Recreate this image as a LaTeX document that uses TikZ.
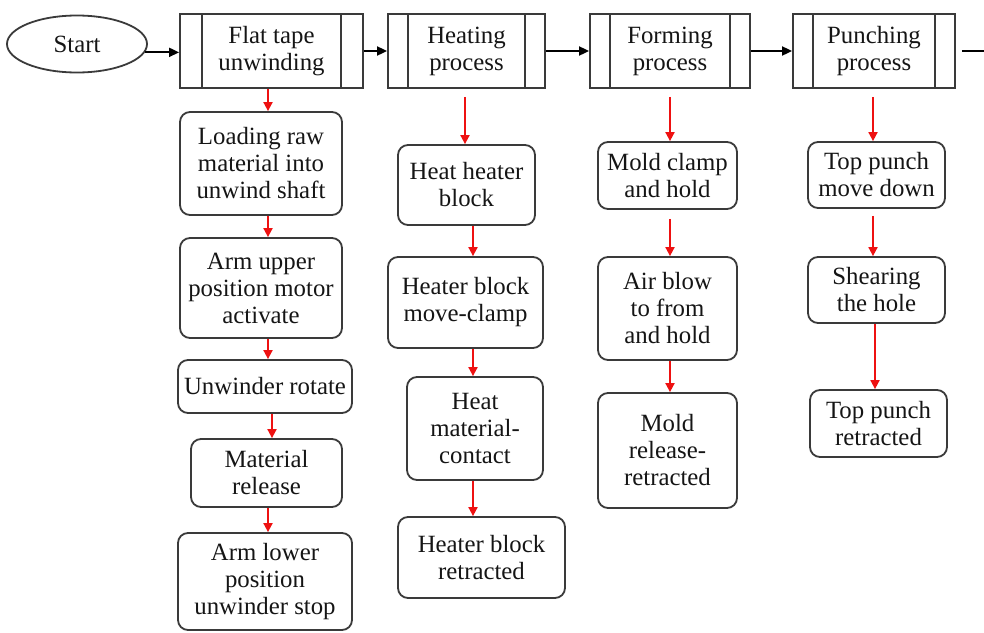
\documentclass[tikz,border=0pt]{standalone}
\usepackage{fontspec}
\setmainfont{Liberation Serif}
\newfontfamily\tnr{Liberation Serif}
\usetikzlibrary{arrows.meta,shapes.geometric}
\definecolor{edge}{HTML}{3A3A3A}
\definecolor{txt}{HTML}{151515}
\definecolor{redline}{HTML}{EE1111}
\tikzset{
  lbl/.style={font=\tnr\fontsize{24.8}{27}\selectfont, text=txt, align=center, inner sep=0pt},
  rbox/.style={lbl, draw=edge, line width=1.8pt, rounded corners=10pt},
  procbox/.style={lbl, draw=edge, line width=1.8pt, minimum height=74pt,
    path picture={
      \draw[edge, line width=1.8pt]
        ([xshift=#1]path picture bounding box.north west) -- ([xshift=#1]path picture bounding box.south west)
        ([xshift=-#1]path picture bounding box.north east) -- ([xshift=-#1]path picture bounding box.south east);
    }},
  startnode/.style={lbl, draw=edge, line width=1.8pt, ellipse, minimum width=140pt, minimum height=57pt},
  blk/.style={draw=black, line width=1.8pt, -{Triangle[length=10pt,width=9pt]}},
  ra/.style={draw=redline, line width=1.8pt, -{Triangle[length=9pt,width=9pt]}},
}
\begin{document}
\begin{tikzpicture}[x=1pt,y=-1pt]
\useasboundingbox (0,0) rectangle (984,632);
% top row
\node[startnode] (start) at (77,44) {Start};
\node[procbox=22pt, minimum width=183pt] (flat) at (271.5,51) {Flat tape\\unwinding};
\node[procbox=20pt, minimum width=157pt] (heat) at (466.5,51) {Heating\\process};
\node[procbox=20pt, minimum width=160pt] (form) at (670,51) {Forming\\process};
\node[procbox=20pt, minimum width=162pt] (punch) at (874,51) {Punching\\process};
\coordinate (endline) at (984,51);

\draw[blk] (start.-7) -- (flat.west |- start.-7);
\draw[blk] (flat) -- (heat);
\draw[blk] (heat) -- (form);
\draw[blk] (form) -- (punch);
\draw[draw=black, line width=1.8pt, shorten <=6pt] (punch.east) -- (endline);

% column 1
\node[rbox, minimum width=162pt, minimum height=103pt] (L1) at (261,163.5) {Loading raw\\material into\\unwind shaft};
\node[rbox, minimum width=162pt, minimum height=100pt] (L2) at (261,288) {Arm upper\\position motor\\activate};
\node[rbox, minimum width=174pt, minimum height=53pt] (L3) at (265,386.5) {Unwinder rotate};
\node[rbox, minimum width=151pt, minimum height=68pt] (L4) at (266.5,473) {Material\\release};
\node[rbox, minimum width=174pt, minimum height=97pt] (L5) at (265,581.5) {Arm lower\\position\\unwinder stop};

\draw[ra] (flat.south -| 268,0) -- (L1.north -| 268,0);
\draw[ra] (L1.south -| 268,0) -- (L2.north -| 268,0);
\draw[ra] (L2.south -| 268,0) -- (L3.north -| 268,0);
\draw[ra] (L3.south -| 272,0) -- (L4.north -| 272,0);
\draw[ra] (L4.south -| 268,0) -- (L5.north -| 268,0);

% column 2
\node[rbox, minimum width=137pt, minimum height=80pt] (H1) at (466.5,185) {Heat heater\\block};
\node[rbox, minimum width=155pt, minimum height=91pt] (H2) at (465.5,302.5) {Heater block\\move-clamp};
\node[rbox, minimum width=136pt, minimum height=103pt] (H3) at (475,428.5) {Heat\\material-\\contact};
\node[rbox, minimum width=167pt, minimum height=81pt] (H4) at (481.5,557.5) {Heater block\\retracted};

\draw[ra, shorten <=8pt] (heat.south -| 465,0) -- (H1.north -| 465,0);
\draw[ra] (H1.south -| 473,0) -- (H2.north -| 473,0);
\draw[ra] (H2.south -| 473,0) -- (H3.north -| 473,0);
\draw[ra] (H3.south -| 473,0) -- (H4.north -| 473,0);

% column 3
\node[rbox, minimum width=139pt, minimum height=67pt] (F1) at (667.5,175.5) {Mold clamp\\and hold};
\node[rbox, minimum width=139pt, minimum height=103pt] (F2) at (667.5,308.5) {Air blow\\to from\\and hold};
\node[rbox, minimum width=139pt, minimum height=115pt] (F3) at (667.5,450.5) {Mold\\release-\\retracted};

\draw[ra, shorten <=8pt] (form.south -| 670,0) -- (F1.north -| 670,0);
\draw[ra, shorten <=9pt] (F1.south -| 670,0) -- (F2.north -| 670,0);
\draw[ra] (F2.south -| 670,0) -- (F3.north -| 670,0);

% column 4
\node[rbox, minimum width=137pt, minimum height=66pt] (P1) at (876.5,175) {Top punch\\move down};
\node[rbox, minimum width=137pt, minimum height=66pt] (P2) at (876.5,290) {Shearing\\the hole};
\node[rbox, minimum width=137pt, minimum height=67pt] (P3) at (878.5,423.5) {Top punch\\retracted};

\draw[ra, shorten <=8pt] (punch.south -| 873,0) -- (P1.north -| 873,0);
\draw[ra, shorten <=7pt] (P1.south -| 873,0) -- (P2.north -| 873,0);
\draw[ra] (P2.south -| 875,0) -- (P3.north -| 875,0);
\end{tikzpicture}
\end{document}
